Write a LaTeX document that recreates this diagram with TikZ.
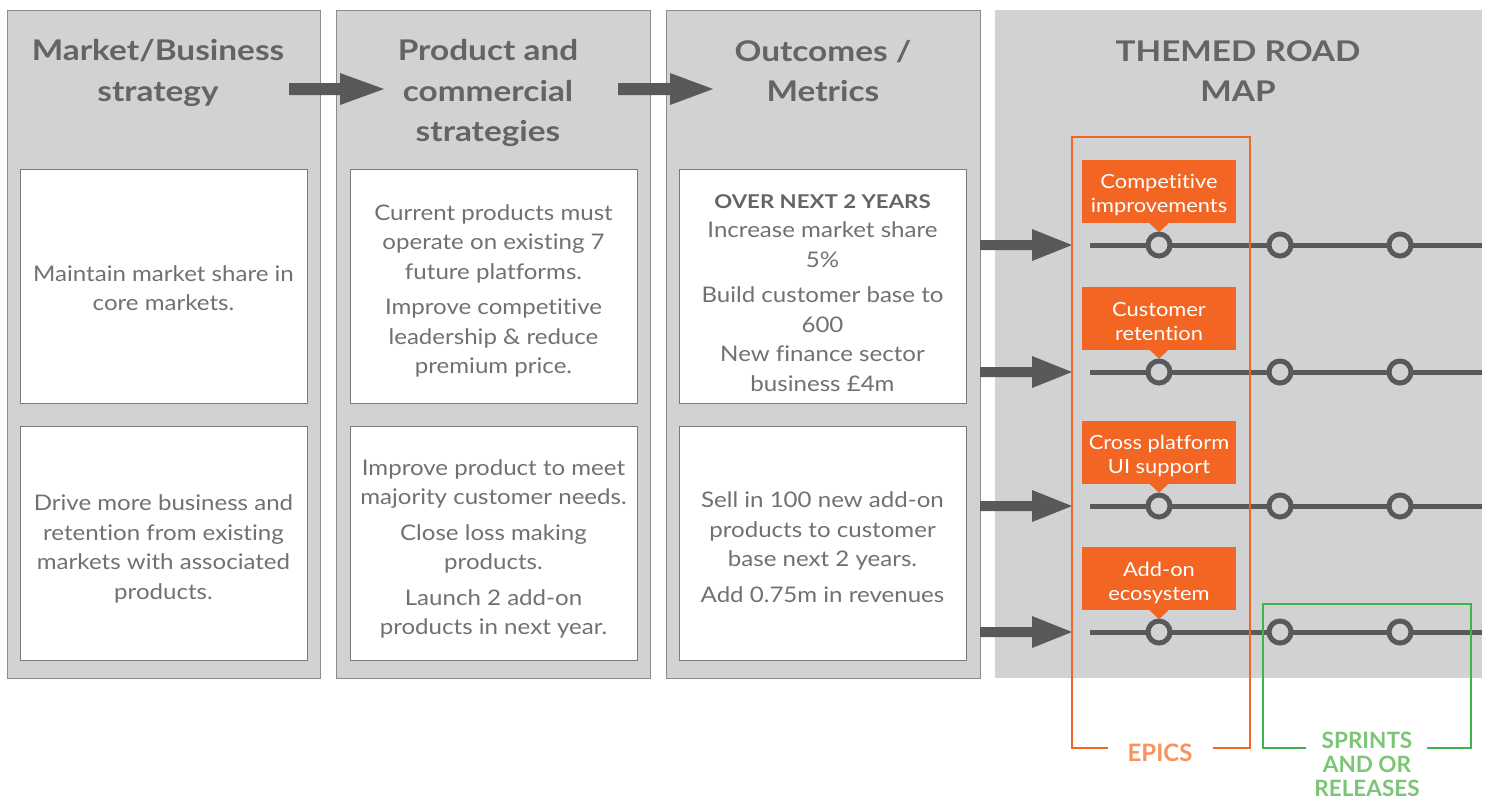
\documentclass[tikz,border=0pt]{standalone}
\usepackage{fontspec}
\setmainfont{Lato}[FakeStretch=1.12,Ligatures=NoCommon]
\newfontfamily\headfont{Lato}[FakeStretch=1.17,Ligatures=NoCommon]
\newfontfamily\plainfont{Lato}[Ligatures=NoCommon]
\usetikzlibrary{calc}
\definecolor{panelgray}{HTML}{D1D2D4}
\definecolor{panelline}{HTML}{8C8C8E}
\definecolor{boxline}{HTML}{7A7A7C}
\definecolor{headtext}{HTML}{636466}
\definecolor{bodytext}{HTML}{707174}
\definecolor{darkgray}{HTML}{58595B}
\definecolor{epicorange}{HTML}{F26522}
\definecolor{epictext}{HTML}{F7935C}
\definecolor{sprintgreen}{HTML}{3DB54A}
\definecolor{sprinttext}{HTML}{7CC576}

% fat block arrow: start point, shaft length, head length, half shaft, half head
\newcommand\blockarrow[5]{%
  \fill[darkgray] (#1) ++(0,-#4) -- ++(#2,0) -- ++(0,#4-#5) -- ++(#3,#5)
    -- ++(-#3,#5) -- ++(0,#4-#5) -- ++(-#2,0) -- cycle;}

\begin{document}
\begin{tikzpicture}[x=1pt,y=-1pt,
  panel/.style={draw=panelline,fill=panelgray,line width=1pt,inner sep=0pt,
    outer sep=0pt,minimum height=668pt},
  roadpanel/.style={fill=panelgray,inner sep=0pt,outer sep=0pt,
    minimum width=487pt,minimum height=668pt},
  heading/.style={align=center,text=headtext,
    font=\headfont\fontsize{28.5}{40.5}\selectfont\bfseries},
  wbox/.style={draw=boxline,fill=white,line width=1pt,inner sep=0pt,
    minimum width=287pt,minimum height=234pt},
  wtext/.style={align=center,text=bodytext,inner sep=0pt,
    font=\fontsize{21.5}{29.5}\selectfont},
  epic/.style={fill=epicorange,text=white,inner sep=0pt,minimum width=154pt,
    minimum height=63pt},
  epictxt/.style={align=center,text=white,inner sep=0pt,
    font=\fontsize{19.5}{24}\selectfont},
  track/.style={draw=darkgray,line width=5pt},
  milestone/.style={circle,draw=darkgray,fill=panelgray,line width=5pt,
    minimum size=22pt,inner sep=0pt},
]
\useasboundingbox[fill=white] (0,0) rectangle (1488,801);

% column panels
\node[panel,minimum width=313pt] (c1) at (163.5,344) {};
\node[panel,minimum width=314pt] (c2) at (493,344) {};
\node[panel,minimum width=314pt] (c3) at (823,344) {};
\node[roadpanel] (c4) at (1238.5,344) {};

% headings
\node[heading] (h1) at (158,73) {Market/Business\\strategy};
\node[heading] (h2) at (488,93) {Product and\\commercial\\strategies};
\node[heading] (h3) at (823,71) {Outcomes /\\Metrics};
\node[heading] (h4) at (1238,71) {THEMED ROAD\\MAP};

% arrows between headings
\coordinate (a1) at (289,89);
\coordinate (a2) at (618,89);
\blockarrow{a1}{51}{44}{6}{16}
\blockarrow{a2}{52}{43}{6}{16}

% strategy boxes
\node[wbox] (b11) at (163.5,286) {};
\node[wbox] (b12) at (163.5,543) {};
\node[wbox] (b21) at (493.5,286) {};
\node[wbox] (b22) at (493.5,543) {};
\node[wbox] (b31) at (822.5,286) {};
\node[wbox] (b32) at (822.5,543) {};

\node[wtext] (t11) at ($(b11)+(0,2)$) {Maintain market share in\\core markets.};
\node[wtext] (t12) at ($(b12)+(0,6)$) {Drive more business and\\retention from existing\\markets with associated\\products.};
\node[wtext] (t21) at ($(b21)+(0,5)$) {Current products must\\operate on existing 7\\future platforms.\\[6pt]Improve competitive\\leadership \& reduce\\premium price.};
\node[wtext] (t22) at ($(b22)+(0,6)$) {Improve product to meet\\majority customer needs.\\[6pt]Close loss making\\products.\\[6pt]Launch 2 add-on\\products in next year.};
\node[wtext] (t31) at ($(b31)+(0,7)$) {{\headfont\fontsize{19}{29.5}\selectfont\bfseries\color{headtext}OVER NEXT 2 YEARS}\\Increase market share\\5\%\\[6pt]Build customer base to\\600\\New finance sector\\business £4m};
\node[wtext] (t32) at ($(b32)+(0,4)$) {Sell in 100 new add-on\\products to customer\\base next 2 years.\\[6pt]Add 0.75m in revenues};

% arrows into the road map rows
\foreach \r/\y in {1/245,2/372,3/506,4/632}{
  \coordinate (s\r) at (980,\y);
  \blockarrow{s\r}{52}{40}{5}{16}
}

% timelines with milestones
\foreach \r/\y in {1/245,2/372,3/506,4/632}{
  \coordinate (t\r a) at (1090,\y);
  \coordinate (t\r b) at (1482,\y);
  \draw[track] (t\r a) -- (t\r b);
  \node[milestone] (m\r a) at (1159,\y) {};
  \node[milestone] (m\r b) at (1280,\y) {};
  \node[milestone] (m\r c) at (1400,\y) {};
}

% epic callouts
\node[epic] (e1) at (1159,191.5) {};
\node[epic] (e2) at (1159,318) {};
\node[epic] (e3) at (1159,452) {};
\node[epic] (e4) at (1159,578.5) {};
\node[epictxt] (l1) at ($(e1)+(0,4)$) {Competitive\\improvements};
\node[epictxt] (l2) at ($(e2)+(0,4)$) {Customer\\retention};
\node[epictxt] (l3) at ($(e3)+(0,4)$) {Cross platform\\UI support};
\node[epictxt] (l4) at ($(e4)+(0,4)$) {Add-on\\ecosystem};
\foreach \e in {e1,e2,e3,e4}{
  \fill[epicorange] ($(\e.south)+(-10,-0.5)$) -- ($(\e.south)+(10,-0.5)$)
    -- ($(\e.south)+(0,9)$) -- cycle;
}

% epics frame
\node[text=epictext,font=\plainfont\fontsize{24}{24}\selectfont\bfseries] (ep) at (1160,753) {EPICS};
\draw[epicorange,line width=2pt] (1108,748) -- (1072,748) -- (1072,137)
  -- (1250,137) -- (1250,748) -- (1213,748);

% sprints frame
\node[text=sprinttext,align=center,font=\plainfont\fontsize{22.5}{24}\selectfont\bfseries]
  (sp) at (1367,764) {SPRINTS\\AND OR\\RELEASES};
\draw[sprintgreen,line width=2pt] (1306,748) -- (1263,748) -- (1263,604)
  -- (1471,604) -- (1471,748) -- (1427,748);
\end{tikzpicture}
\end{document}
